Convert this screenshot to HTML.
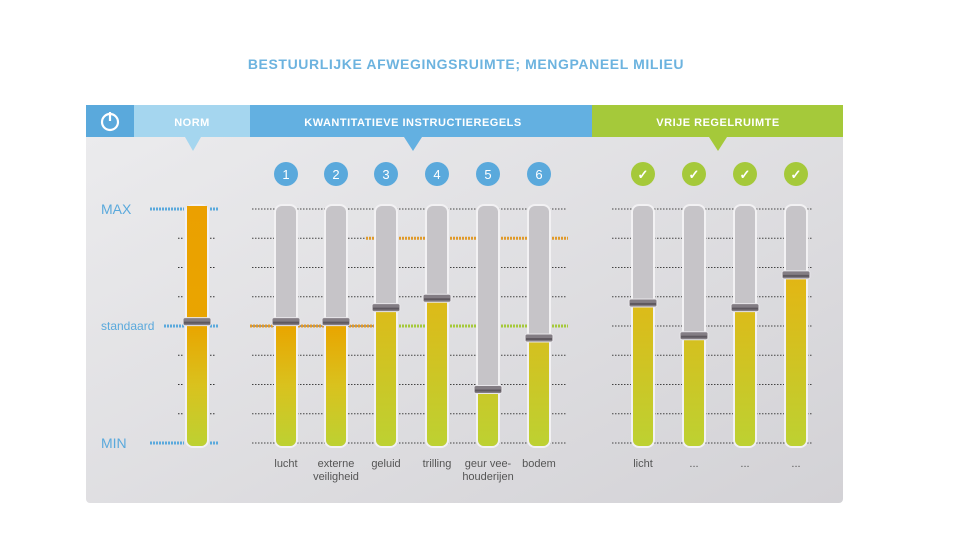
<!DOCTYPE html>
<html><head><meta charset="utf-8"><style>
body{margin:0;width:960px;height:540px;background:#fff;overflow:hidden;font-family:"Liberation Sans",sans-serif}
</style></head><body>
<svg id="c" width="960" height="540">
<defs>
<linearGradient id="panelBg" x1="0" y1="0" x2="1" y2="1"><stop offset="0" stop-color="#ececee"/><stop offset="1" stop-color="#d3d2d6"/></linearGradient>
<linearGradient id="gOr" gradientUnits="userSpaceOnUse" x1="0" y1="206" x2="0" y2="446"><stop offset="0" stop-color="#eba000"/><stop offset="0.5" stop-color="#e9a500"/><stop offset="0.75" stop-color="#d9c21e"/><stop offset="1" stop-color="#bdd132"/></linearGradient>
<linearGradient id="gYe" gradientUnits="userSpaceOnUse" x1="0" y1="206" x2="0" y2="446"><stop offset="0" stop-color="#e8a80a"/><stop offset="0.35" stop-color="#e0b816"/><stop offset="1" stop-color="#bdd132"/></linearGradient>
</defs>
<text x="466" y="69" text-anchor="middle" font-size="14" font-weight="bold" fill="#6cb3df" letter-spacing="0.6">BESTUURLIJKE AFWEGINGSRUIMTE; MENGPANEEL MILIEU</text>
<rect x="86" y="105" width="757" height="398" rx="4" fill="url(#panelBg)"/>
<rect x="86" y="105" width="48" height="32" fill="#5aa9dc"/>
<circle cx="110" cy="122" r="8" fill="none" stroke="#fff" stroke-width="2.2"/>
<line x1="110" y1="112" x2="110" y2="121" stroke="#fff" stroke-width="2.2"/>
<rect x="134" y="105" width="116" height="32" fill="#a5d6ef"/>
<polygon points="185,137 201,137 193,151" fill="#a5d6ef"/>
<text x="192" y="126" text-anchor="middle" font-size="11" font-weight="bold" fill="#fff" letter-spacing="0.5">NORM</text>
<rect x="250" y="105" width="342" height="32" fill="#63b0e1"/>
<polygon points="404,137 422,137 413,151" fill="#63b0e1"/>
<text x="413" y="126" text-anchor="middle" font-size="11" font-weight="bold" fill="#fff" letter-spacing="0.5">KWANTITATIEVE INSTRUCTIEREGELS</text>
<rect x="592" y="105" width="251" height="32" fill="#a5c93a"/>
<polygon points="709,137 727,137 718,151" fill="#a5c93a"/>
<text x="718" y="126" text-anchor="middle" font-size="11" font-weight="bold" fill="#fff" letter-spacing="0.5">VRIJE REGELRUIMTE</text>
<text x="101" y="214" font-size="14" fill="#5aa9dc">MAX</text>
<text x="101" y="330" font-size="12" fill="#5aa9dc">standaard</text>
<text x="101" y="448" font-size="14" fill="#5aa9dc">MIN</text>
<g id="g"></g>
</svg>
<script>
const categories=["norm","lucht","externe veiligheid","geluid","trilling","geur vee-houderijen","bodem","licht","...","...","..."];
const values=[51,51,51,57,61,22,44,59,45,57,71];
const badges=["","1","2","3","4","5","6","✓","✓","✓","✓"];
const centers=[197,286,336,386,437,488,539,643,694,745,796];
const Y0=443,Y1=209;
function y(v){return Y0-(Y0-Y1)*v/100;}
const ns="http://www.w3.org/2000/svg",g=document.getElementById('g');
function el(t,a,p){const e=document.createElementNS(ns,t);for(const k in a)e.setAttribute(k,a[k]);(p||g).appendChild(e);return e;}
for(let i=0;i<=8;i++){const yy=y(i*12.5);
 if(i==0||i==4||i==8){el('line',{x1:i==4?164:150,x2:184,y1:yy,y2:yy,stroke:'#5aa9dc','stroke-width':3,'stroke-dasharray':'2 1'});el('line',{x1:210,x2:218,y1:yy,y2:yy,stroke:'#5aa9dc','stroke-width':3,'stroke-dasharray':'2 1'});}
 else{el('line',{x1:178,x2:184,y1:yy,y2:yy,stroke:'#333','stroke-width':1,'stroke-dasharray':'1.5 1.5'});el('line',{x1:210,x2:216,y1:yy,y2:yy,stroke:'#333','stroke-width':1,'stroke-dasharray':'1.5 1.5'});}
 for(const s of [[252,567],[612,812]]){
  el('line',{x1:s[0],x2:s[1],y1:yy,y2:yy,stroke:'#444','stroke-width':1,'stroke-dasharray':'1.5 1.5'});
 }
}
el('line',{x1:250,x2:375,y1:y(50),y2:y(50),stroke:'#e09a2a','stroke-width':3,'stroke-dasharray':'2 1'});
el('line',{x1:375,x2:568,y1:y(50),y2:y(50),stroke:'#a5c93a','stroke-width':3,'stroke-dasharray':'2 1'});
el('line',{x1:366,x2:568,y1:y(87.5),y2:y(87.5),stroke:'#e09a2a','stroke-width':3,'stroke-dasharray':'2 1'});
for(let i=0;i<categories.length;i++){
 const cx=centers[i],v=values[i];
 const bar=el('g',{});
 
 
 el('rect',{x:cx-12,y:Y1-5,width:24,height:Y0-Y1+10,rx:8,fill:'#f2f1f3'},bar);
 el('rect',{x:cx-10,y:Y1-3,width:20,height:Y0-Y1+6,rx:6,fill:'#c6c4c8'},bar);
 const top=i==0?Y1-3:y(v);
 const grad=(i<3)?'url(#gOr)':'url(#gYe)';
 el('rect',{x:cx-10,y:top,width:20,height:Y0+3-top,rx:6,fill:grad},bar);
 el('rect',{x:cx-10,y:top,width:20,height:8,fill:grad},bar);
 const k=el('rect',{x:cx-14,y:y(v)-6,width:28,height:8,rx:2,fill:'#837d84',stroke:'#e8e6ea','stroke-width':1},bar);
 
 
 el('rect',{x:cx-13,y:y(v)-2,width:26,height:2,fill:'#5e585f'},bar);
 if(badges[i]){
  const c=el('circle',{cx:cx,cy:174,r:12,fill:i<7?'#5aa9dc':'#a5c93a'});
  
  
  const t=el('text',{x:cx,y:179,'text-anchor':'middle','font-size':13,fill:'#fff','font-weight':i<7?'normal':'bold'});t.textContent=badges[i];
 }
 if(i>0){
  const parts=categories[i]=="externe veiligheid"?["externe","veiligheid"]:categories[i]=="geur vee-houderijen"?["geur vee-","houderijen"]:[categories[i]];
  parts.forEach((p,j)=>{const t=el('text',{x:cx,y:467+j*13,'text-anchor':'middle','font-size':11,fill:'#555'});
   
   
   t.textContent=p;});
 }
}
</script>
</body></html>
